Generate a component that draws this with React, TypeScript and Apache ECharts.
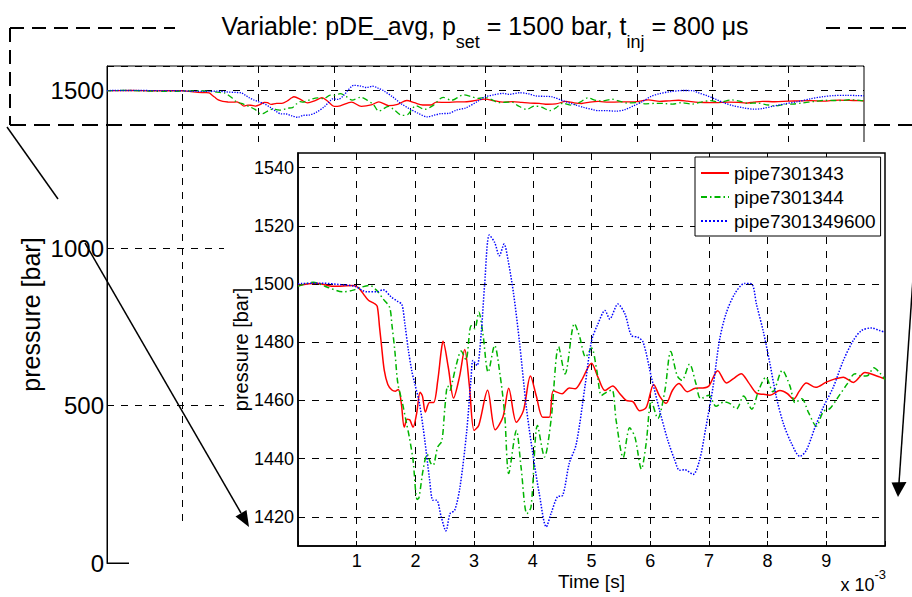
import React, { useEffect, useRef } from 'react';
import * as echarts from 'echarts';

const seriesNames = ['pipe7301343', 'pipe7301344', 'pipe7301349600'];
const seriesColors = ['#ff0000', '#00b400', '#0000ff'];

// time in ms (axis shows x 10^-3 s), pressure in bar
const redT = [0, 0.32, 0.6, 0.94, 1.03, 1.11, 1.2, 1.3, 1.35, 1.39, 1.42, 1.47, 1.53, 1.6, 1.66, 1.71, 1.76, 1.81, 1.86, 1.9, 1.96, 2.02, 2.08, 2.12, 2.17, 2.24, 2.31, 2.38, 2.44, 2.47, 2.56, 2.65, 2.75, 2.84, 2.92, 3.0, 3.08, 3.23, 3.36, 3.49, 3.59, 3.72, 3.84, 3.96, 4.06, 4.17, 4.28, 4.35, 4.5, 4.62, 4.72, 4.83, 5.0, 5.11, 5.23, 5.36, 5.48, 5.59, 5.71, 5.82, 5.93, 6.06, 6.16, 6.27, 6.38, 6.49, 6.63, 6.77, 6.9, 7.0, 7.15, 7.3, 7.42, 7.55, 7.67, 7.81, 7.93, 8.04, 8.21, 8.34, 8.44, 8.54, 8.66, 8.82, 9.0, 9.15, 9.29, 9.46, 9.66, 9.86, 10.0];
const redP = [1499.5, 1500.3, 1499.2, 1499.5, 1498.7, 1496.7, 1494.4, 1493.3, 1492.3, 1485, 1479.4, 1470.3, 1465.5, 1463.6, 1463.2, 1463.8, 1459, 1450.8, 1453.5, 1453.4, 1450.8, 1455.4, 1462.8, 1461.5, 1456, 1459.3, 1459.3, 1466.7, 1477, 1480.3, 1471.4, 1460.8, 1468, 1477.5, 1465, 1449.7, 1451.5, 1463.5, 1449.9, 1454.2, 1464.2, 1452.5, 1456.5, 1468.4, 1461.5, 1454.2, 1454.2, 1463.3, 1462.3, 1464.3, 1464, 1466.9, 1472.8, 1468, 1463.4, 1465, 1462.4, 1460, 1459.5, 1456.5, 1457.5, 1465.5, 1461.5, 1459, 1463.5, 1465.8, 1463, 1464.2, 1464.3, 1465, 1470.2, 1466, 1467.5, 1469.2, 1466.3, 1462.5, 1462.1, 1461.8, 1463.4, 1462.3, 1460.4, 1463.2, 1466, 1464.5, 1466.3, 1467.4, 1468, 1466.2, 1469.6, 1468.4, 1467.4];

const greenT = [0, 0.26, 0.49, 0.77, 0.94, 1.06, 1.22, 1.34, 1.45, 1.56, 1.6, 1.65, 1.7, 1.78, 1.85, 1.9, 1.96, 2.03, 2.06, 2.13, 2.2, 2.26, 2.3, 2.38, 2.45, 2.5, 2.55, 2.59, 2.62, 2.7, 2.78, 2.86, 2.95, 3.01, 3.08, 3.15, 3.24, 3.35, 3.44, 3.52, 3.59, 3.72, 3.8, 3.9, 3.97, 4.08, 4.2, 4.31, 4.44, 4.55, 4.71, 4.8, 4.9, 5.0, 5.09, 5.17, 5.26, 5.35, 5.42, 5.54, 5.65, 5.74, 5.85, 5.93, 6.02, 6.13, 6.25, 6.35, 6.46, 6.54, 6.67, 6.78, 6.86, 7.0, 7.12, 7.26, 7.36, 7.47, 7.59, 7.73, 7.85, 7.97, 8.09, 8.25, 8.38, 8.47, 8.58, 8.7, 8.83, 8.95, 9.06, 9.18, 9.35, 9.49, 9.6, 9.7, 9.81, 9.91, 10.0];
const greenP = [1499.2, 1500.6, 1499, 1497.3, 1497.9, 1498.8, 1499.5, 1497.8, 1494.9, 1492, 1486, 1477, 1466, 1459, 1452, 1447, 1439.5, 1426, 1426.5, 1436, 1441.5, 1438.5, 1437.7, 1444, 1446, 1457, 1465, 1463.5, 1465.5, 1472.5, 1477, 1474, 1485.7, 1484.6, 1490.3, 1482.9, 1469.7, 1478.9, 1469.1, 1455.4, 1434.9, 1449.7, 1437.1, 1421.1, 1423.4, 1451.4, 1440.6, 1453.1, 1478.5, 1469.1, 1486.4, 1481.7, 1474.9, 1478, 1470.3, 1461.7, 1462.9, 1463.6, 1453.1, 1440.4, 1450.6, 1447.4, 1436.4, 1445.1, 1459.8, 1453.8, 1463.4, 1476.8, 1468.5, 1466.9, 1472.5, 1465.7, 1460.6, 1461.8, 1458, 1459.5, 1458.9, 1457.1, 1461.5, 1457, 1463.6, 1468, 1463, 1470.3, 1465, 1459.2, 1460.6, 1455.7, 1451.2, 1456.2, 1457.2, 1460.5, 1465.5, 1469.2, 1468.4, 1468.5, 1471.2, 1469.5, 1467.2];

const blueT = [0, 0.38, 0.72, 0.97, 1.17, 1.34, 1.45, 1.59, 1.7, 1.77, 1.82, 1.88, 1.94, 1.99, 2.07, 2.16, 2.24, 2.3, 2.36, 2.44, 2.52, 2.59, 2.67, 2.76, 2.87, 2.95, 2.98, 3.05, 3.12, 3.18, 3.26, 3.35, 3.43, 3.51, 3.58, 3.67, 3.77, 3.89, 4.0, 4.11, 4.23, 4.31, 4.42, 4.51, 4.62, 4.74, 4.89, 5.0, 5.11, 5.23, 5.31, 5.45, 5.57, 5.68, 5.79, 5.88, 6.02, 6.16, 6.3, 6.42, 6.5, 6.59, 6.73, 6.84, 6.95, 7.07, 7.18, 7.29, 7.44, 7.61, 7.73, 7.81, 7.93, 8.04, 8.15, 8.27, 8.41, 8.55, 8.66, 8.81, 8.95, 9.12, 9.29, 9.46, 9.6, 9.77, 9.91, 10.0];
const blueP = [1500.1, 1500.3, 1499.8, 1499.2, 1497.3, 1497.3, 1498, 1495.5, 1494, 1493, 1486.4, 1477.3, 1470, 1465.7, 1458.9, 1446.3, 1433.1, 1425.7, 1425.7, 1420, 1415.2, 1421.1, 1422.3, 1430.3, 1448.6, 1468, 1473.7, 1472, 1482.9, 1500, 1516.8, 1514.3, 1509.7, 1513.7, 1508, 1497, 1480.6, 1457.7, 1441.7, 1428, 1416.6, 1421.1, 1426.9, 1427.4, 1438.3, 1445, 1465, 1480.4, 1486.3, 1490.9, 1488, 1493.1, 1489.7, 1482.3, 1481.7, 1480, 1468, 1456.6, 1446.3, 1439.4, 1436, 1436.2, 1434.6, 1439.4, 1450.9, 1464.6, 1480.6, 1489.7, 1496.6, 1500.2, 1500, 1493.1, 1483.4, 1472.6, 1461.1, 1452, 1445.1, 1440.8, 1442.9, 1450.9, 1457.7, 1464.6, 1473.7, 1480.6, 1484, 1484.9, 1484, 1483.4];

const xTickLabels = [1, 2, 3, 4, 5, 6, 7, 8, 9];
const insetYTickLabels = [1420, 1440, 1460, 1480, 1500, 1520, 1540];
const outerYTickLabels = [0, 500, 1000, 1500];

const FONT = '"Liberation Sans", Arial, Helvetica, sans-serif';

const zip = (t: number[], p: number[]) => t.map((v, i) => [v, p[i]]);
const seriesData = [zip(redT, redP), zip(greenT, greenP), zip(blueT, blueP)];
const lineTypes: any[] = ['solid', [6, 3, 1.5, 3], 'dotted'];

export default function App() {
  const ref = useRef<HTMLDivElement>(null);
  useEffect(() => {
    document.body.style.margin = '0';
    const chart = echarts.init(ref.current!, null, { renderer: 'svg' });
    const dash = [7, 7];
    const outerSeries = seriesData.map((d, i) => ({
      name: '_outer' + i,
      type: 'line',
      xAxisIndex: 0,
      yAxisIndex: 0,
      data: d,
      showSymbol: false,
      symbol: 'none',
      smooth: 0.3,
      z: 1,
      lineStyle: { color: seriesColors[i], width: 1.3, type: lineTypes[i] },
    }));
    const insetSeries = seriesData.map((d, i) => ({
      name: seriesNames[i],
      type: 'line',
      xAxisIndex: 1,
      yAxisIndex: 1,
      data: d,
      showSymbol: false,
      symbol: 'none',
      smooth: 0.3,
      z: 12,
      itemStyle: { color: seriesColors[i] },
      lineStyle: { color: seriesColors[i], width: 1.5, type: lineTypes[i] },
    }));
    const option: any = {
      animation: false,
      backgroundColor: '#fff',
      textStyle: { fontFamily: FONT, color: '#000' },
      grid: [
        { left: 107, top: 66, width: 757, height: 497, show: true, borderColor: '#000', borderWidth: 1, backgroundColor: '#fff', z: 0, containLabel: false, outerBoundsMode: 'none' },
        { left: 298, top: 153, width: 587, height: 393, show: true, borderColor: '#000', borderWidth: 1.5, backgroundColor: '#fff', z: 10, containLabel: false, outerBoundsMode: 'none' },
      ],
      xAxis: [
        {
          type: 'value', gridIndex: 0, min: 0, max: 10, interval: 1, z: 0,
          axisLine: { show: true, onZero: false, lineStyle: { color: '#000', width: 1 } },
          axisTick: { show: false },
          axisLabel: { show: false },
          splitLine: { show: true, showMinLine: false, showMaxLine: false, lineStyle: { color: '#000', width: 1, type: dash } },
        },
        {
          type: 'value', gridIndex: 1, min: 0, max: 10, interval: 1, z: 11,
          name: 'Time [s]', nameLocation: 'middle', nameGap: 26, nameMoveOverlap: false,
          nameTextStyle: { fontSize: 19, lineHeight: 18, color: '#000', fontFamily: FONT },
          axisLine: { show: true, onZero: false, lineStyle: { color: '#000', width: 1.5 } },
          axisTick: { show: true, inside: true, length: 5, lineStyle: { color: '#000' } },
          axisLabel: { show: true, margin: 7, fontSize: 18, lineHeight: 16, color: '#000', fontFamily: FONT, formatter: (v: number) => (xTickLabels.includes(Math.round(v)) && Math.abs(v - Math.round(v)) < 1e-6 ? String(Math.round(v)) : '') },
          splitLine: { show: true, showMinLine: false, showMaxLine: false, lineStyle: { color: '#000', width: 1, type: dash } },
        },
      ],
      yAxis: [
        {
          type: 'value', gridIndex: 0, min: 0, max: 1578, interval: 500, z: 0,
          name: 'pressure [bar]', nameLocation: 'middle', nameGap: 64, nameRotate: 90, nameMoveOverlap: false,
          nameTextStyle: { fontSize: 25, color: '#000', fontFamily: FONT },
          axisLine: { show: true, onZero: false, lineStyle: { color: '#000', width: 1 } },
          axisTick: { show: true, inside: true, length: 7, lineStyle: { color: '#000' } },
          axisLabel: { show: true, margin: 3, fontSize: 24, color: '#000', fontFamily: FONT, formatter: (v: number) => (outerYTickLabels.includes(v) ? String(v) : '') },
          splitLine: { show: true, lineStyle: { color: '#000', width: 1, type: dash } },
        },
        {
          type: 'value', gridIndex: 1, min: 1410, max: 1545, interval: 10, z: 11,
          name: 'pressure [bar]', nameLocation: 'middle', nameGap: 47, nameRotate: 90, nameMoveOverlap: false,
          nameTextStyle: { fontSize: 20, color: '#000', fontFamily: FONT },
          axisLine: { show: true, onZero: false, lineStyle: { color: '#000', width: 1.5 } },
          axisTick: { show: false },
          axisLabel: { show: true, margin: 4, fontSize: 18, color: '#000', fontFamily: FONT, formatter: (v: number) => (insetYTickLabels.includes(v) ? String(v) : '') },
          splitLine: { show: true, lineStyle: { color: ['rgba(0,0,0,0)', '#000'], width: 1, type: dash } },
        },
      ],
      legend: {
        data: seriesNames,
        orient: 'vertical',
        left: 695,
        top: 157,
        z: 15,
        padding: [4, 5, 3, 5],
        itemGap: 0,
        itemWidth: 28,
        itemHeight: 14,
        itemTextGap: 4,
        backgroundColor: '#fff',
        borderColor: '#000',
        borderWidth: 1,
        borderRadius: 0,
        selectedMode: false,
        itemStyle: { opacity: 0 },
        lineStyle: { opacity: 1 },
        textStyle: { fontSize: 19, color: '#000', fontFamily: FONT, lineHeight: 24 },
      },
      series: [...outerSeries, ...insetSeries],
      graphic: [
        { type: 'rect', z: 5, silent: true, shape: { x: 224, y: 142, width: 700, height: 460 }, style: { fill: '#fff' } },
        { type: 'rect', z: 5, silent: true, shape: { x: 129, y: 526, width: 100, height: 80 }, style: { fill: '#fff' } },
        { type: 'line', z: 20, silent: true, shape: { x1: 10, y1: 28, x2: 175, y2: 28 }, style: { stroke: '#000', lineWidth: 2, lineDash: [14, 8] } },
        { type: 'line', z: 20, silent: true, shape: { x1: 826, y1: 28, x2: 912, y2: 28 }, style: { stroke: '#000', lineWidth: 2, lineDash: [14, 8] } },
        { type: 'line', z: 20, silent: true, shape: { x1: 10, y1: 28, x2: 10, y2: 125 }, style: { stroke: '#000', lineWidth: 2, lineDash: [14, 8] } },
        { type: 'line', z: 20, silent: true, shape: { x1: 10, y1: 125, x2: 912, y2: 125 }, style: { stroke: '#000', lineWidth: 2, lineDash: [16, 8] } },
        { type: 'line', z: 20, silent: true, shape: { x1: 7, y1: 127, x2: 58, y2: 199 }, style: { stroke: '#000', lineWidth: 1.5 } },
        { type: 'line', z: 20, silent: true, shape: { x1: 85, y1: 243, x2: 241, y2: 513 }, style: { stroke: '#000', lineWidth: 1.5 } },
        { type: 'polygon', z: 20, silent: true, shape: { points: [[249, 527], [235.5, 516.5], [246.5, 510]] }, style: { fill: '#000' } },
        { type: 'line', z: 20, silent: true, shape: { x1: 917, y1: 220, x2: 899, y2: 483 }, style: { stroke: '#000', lineWidth: 1.5 } },
        { type: 'polygon', z: 20, silent: true, shape: { points: [[898, 497], [891.5, 482.5], [906.5, 482]] }, style: { fill: '#000' } },
        {
          type: 'text', z: 20, silent: true, x: 485, y: 13,
          style: {
            text: '{m|Variable: pDE_avg, p}{s|set}{m| = 1500 bar, t}{s|inj}{m| = 800 μs}',
            align: 'center', verticalAlign: 'top', fill: '#000',
            rich: {
              m: { fontSize: 25, lineHeight: 30, verticalAlign: 'top', fontFamily: FONT, fill: '#000' },
              s: { fontSize: 18, lineHeight: 18, verticalAlign: 'top', padding: [20, 0, 0, 0], fontFamily: FONT, fill: '#000' },
            },
          },
        },
        {
          type: 'text', z: 20, silent: true, x: 886, y: 568,
          style: {
            text: '{a|x 10}{b|-3}',
            align: 'right', verticalAlign: 'top', fill: '#000',
            rich: {
              a: { fontSize: 18, lineHeight: 18, verticalAlign: 'top', padding: [8, 0, 0, 0], fontFamily: FONT, fill: '#000' },
              b: { fontSize: 13, lineHeight: 13, verticalAlign: 'top', fontFamily: FONT, fill: '#000' },
            },
          },
        },
      ],
    };
    chart.setOption(option);
    return () => chart.dispose();
  }, []);
  return <div ref={ref} style={{ position: 'absolute', left: 0, top: 0, width: 912, height: 597 }} />;
}
